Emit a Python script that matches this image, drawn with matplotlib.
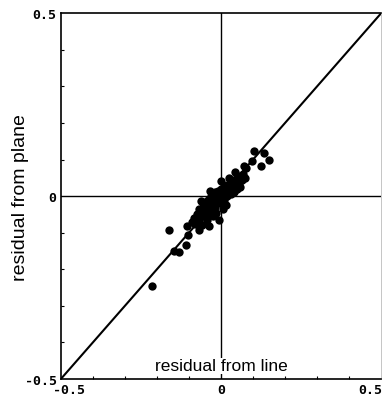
import matplotlib
matplotlib.use("Agg")
import matplotlib.pyplot as plt
from matplotlib.ticker import MultipleLocator
from matplotlib.transforms import ScaledTranslation

# residuals: x = residual from line, y = residual from plane
res_line = [
    -0.216, -0.162, -0.147, -0.131, -0.109, -0.103, -0.106, -0.069, -0.062, -0.037,
    -0.006, -0.062, 0.103, 0.134, 0.150, 0.097, 0.125, 0.072, 0.078,
    -0.090, -0.085, -0.080, -0.075, -0.070, -0.065, -0.060, -0.055, -0.050, -0.050,
    -0.045, -0.040, -0.040, -0.035, -0.030, -0.030, -0.025, -0.020, -0.020, -0.015,
    -0.010, -0.010, -0.005, 0.000, 0.000, 0.005, 0.010, 0.010, 0.015, 0.020,
    0.020, 0.025, 0.030, 0.030, 0.035, 0.040, 0.040, 0.045, 0.050, 0.050,
    0.055, 0.060, 0.060, 0.065, 0.070, 0.075, -0.060, -0.045, -0.025, -0.015,
    0.005, 0.015, -0.070, -0.055, -0.035, 0.000, 0.025, 0.045,
]
res_plane = [
    -0.246, -0.093, -0.150, -0.153, -0.134, -0.107, -0.082, -0.093, -0.055, -0.082,
    -0.066, -0.014, 0.123, 0.117, 0.098, 0.096, 0.082, 0.082, 0.077,
    -0.070, -0.060, -0.075, -0.050, -0.065, -0.040, -0.055, -0.030, -0.045, -0.020,
    -0.035, -0.050, -0.010, -0.025, -0.040, 0.000, -0.015, -0.030, 0.010, -0.005,
    -0.020, 0.015, 0.000, -0.015, 0.020, 0.005, -0.010, 0.025, 0.010, 0.000,
    0.030, 0.015, 0.005, 0.035, 0.020, 0.010, 0.045, 0.030, 0.020, 0.050,
    0.035, 0.025, 0.055, 0.045, 0.060, 0.050, -0.080, -0.065, -0.055, -0.045,
    -0.035, -0.025, -0.035, -0.015, 0.015, 0.040, 0.050, 0.065,
]
ticks = [-0.5, 0, 0.5]
tick_labels = ["-0.5", "0", "0.5"]

fig = plt.figure(figsize=(3.85, 4.06), dpi=100)
ax = fig.add_axes([0.158, 0.064, 0.832, 0.901])

ax.plot([-0.5, 0.5], [-0.5, 0.5], color="black", lw=1.5)
ax.axhline(0, color="black", lw=1.0)
ax.axvline(0, color="black", lw=1.0)
ax.scatter(res_line, res_plane, s=36, color="black", zorder=3, linewidths=0)

ax.set_xlim(-0.5, 0.5)
ax.set_ylim(-0.5, 0.5)
ax.set_xticks(ticks)
ax.set_yticks(ticks)
ax.set_xticklabels(tick_labels)
ax.set_yticklabels(tick_labels)
ax.xaxis.set_minor_locator(MultipleLocator(0.1))
ax.yaxis.set_minor_locator(MultipleLocator(0.1))
ax.tick_params(which="both", direction="in", length=2, width=0.8)
ax.tick_params(which="major", length=0, pad=3)
for lab in ax.get_xticklabels() + ax.get_yticklabels():
    lab.set_family("DejaVu Sans Mono")
    lab.set_fontweight("bold")
    lab.set_fontsize(9.5)

# nudge the end labels of the x axis away from the corners
xl = ax.get_xticklabels()
xl[0].set_transform(xl[0].get_transform() + ScaledTranslation(8 / 100, 0, fig.dpi_scale_trans))
xl[2].set_transform(xl[2].get_transform() + ScaledTranslation(-11 / 100, 0, fig.dpi_scale_trans))

for side in ["left", "bottom", "top"]:
    ax.spines[side].set_linewidth(1.2)
ax.spines["right"].set_linewidth(0.6)
ax.spines["right"].set_color("#bbbbbb")

ax.set_ylabel("residual from plane", family="Liberation Sans", fontsize=14)
ax.yaxis.set_label_coords(-0.10, 0.5)
ax.text(0.0, -0.476, "residual from line", family="Liberation Sans", fontsize=12.5,
        ha="center", va="baseline", bbox=dict(facecolor="white", edgecolor="none", pad=0.5))

fig.savefig("out.png", dpi=100)
